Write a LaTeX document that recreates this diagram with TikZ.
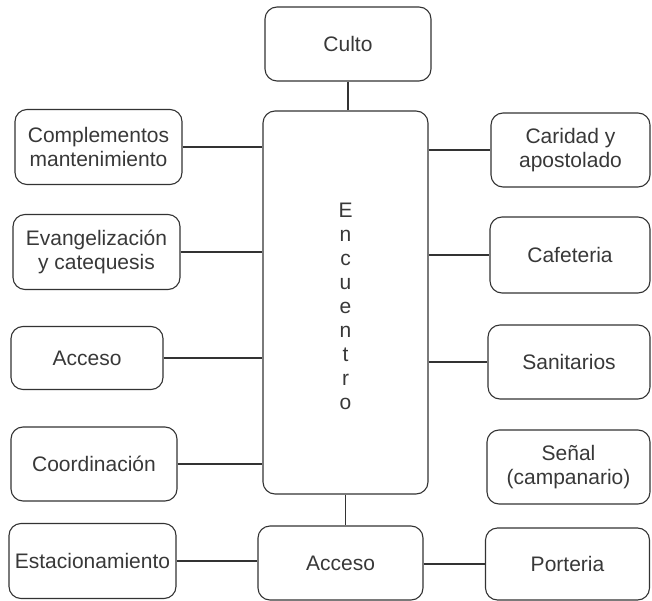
\documentclass[tikz,border=0pt]{standalone}
\usepackage{fontspec}
\setmainfont{Liberation Sans}
\begin{document}
\begin{tikzpicture}[x=1pt,y=-1pt,
  box/.style={draw=black!80, line width=1.1pt, rounded corners=12pt, align=center,
    inner sep=0pt, font=\fontsize{21}{24}\selectfont, text=black!78},
  link/.style={draw=black!80, line width=1.1pt}]
\useasboundingbox (0,0) rectangle (652,601);
% centre
\node[box, minimum width=166pt, minimum height=74pt] (culto) at (348,44) {Culto};
\node[box, minimum width=165pt, minimum height=383pt] (enc) at (345.5,302.5)
  {\begin{tabular}{@{}c@{}}\rule{0pt}{29pt}E\\n\\c\\u\\e\\n\\t\\r\\o\end{tabular}};
\node[box, minimum width=165pt, minimum height=74pt] (acc2) at (340.5,563) {Acceso};
% left
\node[box, minimum width=167pt, minimum height=75pt] (comp) at (98.5,147) {Complementos\\mantenimiento};
\node[box, minimum width=167pt, minimum height=75pt] (evan) at (96.5,252) {Evangelización\\y catequesis};
\node[box, minimum width=152pt, minimum height=63pt] (acc1) at (87,358) {Acceso};
\node[box, minimum width=166pt, minimum height=74pt] (coord) at (94,464) {Coordinación};
\node[box, minimum width=167pt, minimum height=75pt] (esta) at (92.5,561) {Estacionamiento};
% right
\node[box, minimum width=159pt, minimum height=74pt] (car) at (570.5,150) {Caridad y\\apostolado};
\node[box, minimum width=160pt, minimum height=76pt] (caf) at (570,255) {Cafeteria};
\node[box, minimum width=162pt, minimum height=74pt] (san) at (569,362) {Sanitarios};
\node[box, minimum width=163pt, minimum height=74pt] (sen) at (568.5,467) {Señal\\(campanario)};
\node[box, minimum width=164pt, minimum height=72pt] (port) at (567.5,564) {Porteria};
% connectors
\draw[link] (culto.south) -- (culto.south |- enc.north);
\draw[link] (enc.south) -- (enc.south |- acc2.north);
\draw[link] (comp.east) -- (comp.east -| enc.west);
\draw[link] (evan.east) -- (evan.east -| enc.west);
\draw[link] (acc1.east) -- (acc1.east -| enc.west);
\draw[link] (coord.east) -- (coord.east -| enc.west);
\draw[link] (car.west -| enc.east) -- (car.west);
\draw[link] (caf.west -| enc.east) -- (caf.west);
\draw[link] (san.west -| enc.east) -- (san.west);
\draw[link] (esta.east) -- (esta.east -| acc2.west);
\draw[link] (port.west -| acc2.east) -- (port.west);
\end{tikzpicture}
\end{document}
